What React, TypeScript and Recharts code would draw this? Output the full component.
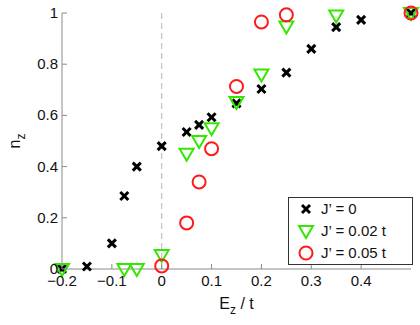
import { ScatterChart, Scatter, XAxis, YAxis, ReferenceLine, Legend, Label } from "recharts";

const FONT = "'Liberation Sans', Arial, sans-serif";

// J' = 0
const ezJ0 = [-0.2, -0.15, -0.1, -0.075, -0.05, 0, 0.05, 0.075, 0.1, 0.15, 0.2, 0.25, 0.3, 0.35, 0.4, 0.5];
const nzJ0 = [0, 0.01, 0.1, 0.285, 0.4, 0.48, 0.535, 0.563, 0.593, 0.647, 0.703, 0.767, 0.86, 0.945, 0.973, 1];

// J' = 0.02 t
const ezJ02 = [-0.2, -0.075, -0.05, 0, 0.05, 0.075, 0.1, 0.15, 0.2, 0.25, 0.35, 0.5];
const nzJ02 = [0, 0, 0, 0.055, 0.45, 0.5, 0.55, 0.652, 0.76, 0.947, 0.99, 1];

// J' = 0.05 t
const ezJ05 = [0, 0.05, 0.075, 0.1, 0.15, 0.2, 0.25, 0.5];
const nzJ05 = [0.012, 0.18, 0.34, 0.47, 0.713, 0.965, 0.993, 1];

const xTicks = [-0.2, -0.1, 0, 0.1, 0.2, 0.3, 0.4];
const xTicksAll = [-0.2, -0.1, 0, 0.1, 0.2, 0.3, 0.4, 0.5];
const yTicks = [0, 0.2, 0.4, 0.6, 0.8, 1];

const legendLabels = ["J\u2019 = 0", "J\u2019 = 0.02 t", "J\u2019 = 0.05 t"];

const GREEN = "#33e800";
const RED = "#ff1a1a";
const AXIS = "#8a8a8a";

const toPoints = (xs: number[], ys: number[]) => xs.map((x, i) => ({ x, y: ys[i] }));

const fmt = (v: number) => String(v).replace("-", "\u2212");

const Cross = ({ cx, cy }: any) => (
  <g stroke="#000" strokeWidth={3}>
    <line x1={cx - 4} y1={cy - 4} x2={cx + 4} y2={cy + 4} />
    <line x1={cx - 4} y1={cy + 4} x2={cx + 4} y2={cy - 4} />
  </g>
);

const TriDown = ({ cx, cy }: any) => (
  <polygon
    points={`${cx - 7},${cy - 5} ${cx + 7},${cy - 5} ${cx},${cy + 7}`}
    fill="none"
    stroke={GREEN}
    strokeWidth={2}
  />
);

const Ring = ({ cx, cy }: any) => (
  <circle cx={cx} cy={cy} r={6.5} fill="none" stroke={RED} strokeWidth={2} />
);

// inward tick marks, MATLAB style
const BottomTick = ({ x, y, payload }: any) => (
  <g>
    <line x1={x} y1={y - 4} x2={x} y2={y - 9} stroke={AXIS} />
    <text x={x} y={y + 13} textAnchor="middle" fontSize={15} fill="#111" fontFamily={FONT}>
      {fmt(payload.value)}
    </text>
  </g>
);

const TopTick = ({ x, y }: any) => <line x1={x} y1={y} x2={x} y2={y + 5} stroke={AXIS} />;

const LeftTick = ({ x, y, payload }: any) => (
  <g>
    <line x1={x + 4} y1={y} x2={x + 9} y2={y} stroke={AXIS} />
    <text x={x} y={y + 5} textAnchor="end" fontSize={15} fill="#111" fontFamily={FONT}>
      {fmt(payload.value)}
    </text>
  </g>
);

const RightTick = ({ x, y }: any) => <line x1={x - 5} y1={y} x2={x} y2={y} stroke={AXIS} />;

const legendMarks = [Cross, TriDown, Ring];

const LegendBox = () => (
  <svg width={125} height={68} style={{ display: "block" }}>
    <rect x={0.5} y={0.5} width={124} height={67} fill="#fff" stroke="#333" />
    {legendLabels.map((t, i) => {
      const M = legendMarks[i];
      const cy = 12 + i * 22;
      return (
        <g key={t}>
          <M cx={18} cy={cy} />
          <text x={33} y={cy + 5} fontSize={15} fill="#111" fontFamily={FONT}>
            {t}
          </text>
        </g>
      );
    })}
  </svg>
);

const XLabel = ({ viewBox }: any) => {
  const cx = viewBox.x + viewBox.width / 2;
  return (
    <text x={cx} y={309} textAnchor="middle" fontSize={16} fill="#111" fontFamily={FONT}>
      E<tspan dy={5} fontSize={12}>z</tspan>
      <tspan dy={-5}> / t</tspan>
    </text>
  );
};

const YLabel = ({ viewBox }: any) => {
  const cy = viewBox.y + viewBox.height / 2;
  return (
    <text
      x={20}
      y={cy}
      transform={`rotate(-90 20 ${cy})`}
      textAnchor="middle"
      fontSize={16}
      fill="#111"
      fontFamily={FONT}
    >
      n<tspan dy={5} fontSize={12}>z</tspan>
    </text>
  );
};

export default function App() {
  return (
    <div style={{ position: "absolute", left: 0, top: 0, background: "#fff" }}>
      <ScatterChart width={420} height={325} margin={{ top: 13, right: 9, bottom: 26, left: 22 }}>
        <XAxis
          dataKey="x"
          type="number"
          domain={[-0.2, 0.5]}
          ticks={xTicks}
          stroke={AXIS}
          tickLine={false}
          tickSize={0}
          tickMargin={4}
          height={30}
          tick={<BottomTick />}
          interval={0}
        >
          <Label content={<XLabel />} />
        </XAxis>
        <XAxis
          xAxisId="top"
          orientation="top"
          type="number"
          domain={[-0.2, 0.5]}
          ticks={xTicksAll}
          stroke={AXIS}
          tickLine={false}
          tickSize={0}
          tickMargin={0}
          height={0}
          tick={<TopTick />}
          interval={0}
        />
        <YAxis
          dataKey="y"
          type="number"
          domain={[0, 1]}
          ticks={yTicks}
          stroke={AXIS}
          tickLine={false}
          tickSize={0}
          tickMargin={4}
          width={40}
          tick={<LeftTick />}
          interval={0}
        >
          <Label content={<YLabel />} />
        </YAxis>
        <YAxis
          yAxisId="right"
          orientation="right"
          type="number"
          domain={[0, 1]}
          ticks={yTicks}
          stroke={AXIS}
          tickLine={false}
          tickSize={0}
          tickMargin={0}
          width={0}
          tick={<RightTick />}
          interval={0}
        />
        <ReferenceLine x={0} stroke="#b5b5b5" strokeDasharray="6 4" />
        <Scatter data={toPoints(ezJ0, nzJ0)} shape={<Cross />} isAnimationActive={false} />
        <Scatter data={toPoints(ezJ02, nzJ02)} shape={<TriDown />} isAnimationActive={false} />
        <Scatter data={toPoints(ezJ05, nzJ05)} shape={<Ring />} isAnimationActive={false} />
        <Legend
          layout="vertical"
          align="center"
          verticalAlign="middle"
          content={<LegendBox />}
          wrapperStyle={{ left: 288, top: 197, width: 125, height: 68 }}
        />
      </ScatterChart>
    </div>
  );
}
